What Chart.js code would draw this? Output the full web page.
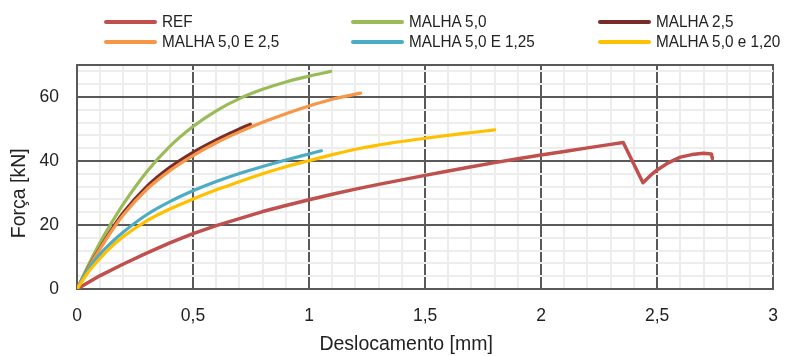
<!DOCTYPE html>
<html>
<head>
<meta charset="utf-8">
<script src="https://cdn.jsdelivr.net/npm/chart.js@4.4.1/dist/chart.umd.min.js"></script>
<style>
  html, body { margin: 0; padding: 0; background: #fff; }
  #wrap { position: relative; width: 795px; height: 356px; }
  #legend { position: absolute; left: 0; top: 0; width: 795px; height: 60px;
    font-family: "Liberation Sans", Arial, sans-serif; font-size: 17px; color: #222; }
  .item { position: absolute; height: 20px; display: flex; align-items: center; white-space: nowrap; }
  .swatch { width: 53px; height: 4px; border-radius: 2px; margin-right: 5px; flex: none; }
  .txt { display: inline-block; transform: scaleX(0.9); transform-origin: left center; }
</style>
</head>
<body>
<div id="wrap">
  <canvas id="myChart" width="795" height="356"></canvas>
  <div id="legend"></div>
</div>
<script>
// series labels and colours
const labels = ['REF', 'MALHA 5,0', 'MALHA 2,5', 'MALHA 5,0 E 2,5', 'MALHA 5,0 E 1,25', 'MALHA 5,0 e 1,20'];
const colors = ['#C0504D', '#9BBB59', '#772C2A', '#F79646', '#4BACC6', '#FFC000'];

// displacement [mm] / force [kN]
const refX = [0, 0.1, 0.2, 0.3, 0.4, 0.5, 0.6, 0.7, 0.8, 0.9, 1.0, 1.1, 1.2, 1.3, 1.4, 1.5, 1.6, 1.7, 1.8, 1.9, 2.0, 2.1, 2.2, 2.3, 2.354, 2.439, 2.47, 2.5, 2.55, 2.6, 2.65, 2.7, 2.734, 2.738];
const refY = [0, 4.2, 7.8, 11.2, 14.4, 17.3, 19.8, 22.0, 24.2, 26.1, 27.9, 29.6, 31.2, 32.7, 34.1, 35.5, 36.9, 38.2, 39.5, 40.7, 41.9, 43.0, 44.1, 45.2, 45.8, 33.2, 35.4, 37.2, 39.5, 41.2, 42.0, 42.4, 42.2, 40.8];

const m50X = [0, 0.05, 0.1, 0.15, 0.2, 0.3, 0.4, 0.5, 0.6, 0.7, 0.8, 0.9, 1.0, 1.093];
const m50Y = [0, 7.6, 14.6, 20.8, 26.6, 36.6, 44.6, 50.8, 55.7, 59.5, 62.4, 64.7, 66.5, 68.0];

const m25X = [0, 0.05, 0.1, 0.15, 0.2, 0.3, 0.4, 0.5, 0.6, 0.7, 0.747];
const m25Y = [0, 6.8, 12.9, 18.7, 23.9, 32.0, 38.0, 42.7, 46.6, 50.0, 51.5];

const m50e25X = [0, 0.05, 0.1, 0.15, 0.2, 0.3, 0.4, 0.5, 0.6, 0.7, 0.8, 0.9, 1.0, 1.1, 1.222];
const m50e25Y = [0, 6.6, 12.6, 18.2, 23.2, 31.1, 37.0, 41.7, 45.7, 49.1, 52.1, 54.8, 57.2, 59.3, 61.2];

const m50e125X = [0, 0.05, 0.1, 0.15, 0.2, 0.3, 0.4, 0.5, 0.6, 0.7, 0.8, 0.9, 1.0, 1.053];
const m50e125Y = [0, 6.3, 10.9, 14.6, 17.8, 23.2, 27.3, 30.7, 33.6, 36.1, 38.3, 40.3, 42.2, 43.2];

const m50e120X = [0, 0.05, 0.1, 0.15, 0.2, 0.3, 0.4, 0.5, 0.6, 0.7, 0.8, 0.9, 1.0, 1.1, 1.222, 1.35, 1.5, 1.65, 1.8];
const m50e120Y = [0, 5.4, 9.6, 13.3, 16.4, 21.3, 25.0, 28.1, 31.0, 33.5, 36.0, 38.2, 40.1, 42.0, 44.0, 45.6, 47.1, 48.5, 49.7];

const seriesX = [refX, m50X, m25X, m50e25X, m50e125X, m50e120X];
const seriesY = [refY, m50Y, m25Y, m50e25Y, m50e125Y, m50e120Y];

const xTitle = 'Deslocamento [mm]';
const yTitle = 'Força [kN]';

const dark = '#595959';
const light = '#ededed';
const textColor = '#222';
const axisFont = 'Liberation Sans, Arial, sans-serif';

const isMajor = (v, step) => Math.abs(v / step - Math.round(v / step)) < 1e-6;
const fmt = (v) => String(Math.round(v * 10) / 10).replace('.', ',');

const datasets = labels.map((label, i) => ({
  label: label,
  data: seriesX[i].map((x, j) => ({ x: x, y: seriesY[i][j] })),
  borderColor: colors[i],
  backgroundColor: colors[i],
  borderWidth: i === 0 ? 3.5 : 3.2,
  pointRadius: 0,
  showLine: true,
  tension: 0,
  cubicInterpolationMode: i === 0 ? 'default' : 'monotone',
  borderCapStyle: 'round',
  borderJoinStyle: 'round',
  order: labels.length - i,
}));

const ctx = document.getElementById('myChart');
const myChart = new Chart(ctx, {
  type: 'scatter',
  data: { datasets: datasets },
  options: {
    responsive: false,
    animation: false,
    layout: { padding: { top: 65, right: 7, left: 0, bottom: 0 } },
    plugins: {
      legend: { display: false },
      tooltip: { enabled: false },
    },
    scales: {
      x: {
        type: 'linear',
        min: 0,
        max: 3,
        z: 0,
        ticks: {
          stepSize: 0.1,
          autoSkip: false,
          maxRotation: 0,
          padding: 17,
          color: textColor,
          font: { family: axisFont, size: 17.5 },
          callback: (v) => (isMajor(v, 0.5) ? fmt(v) : ''),
        },
        grid: {
          drawTicks: false,
          lineWidth: 2,
          color: (c) => (c.tick && isMajor(c.tick.value, 0.5) ? dark : light),
        },
        border: { color: dark, width: 2 },
        title: {
          display: true,
          text: xTitle + '\u00a0'.repeat(7),
          color: textColor,
          font: { family: axisFont, size: 19.5 },
          padding: { top: 0, bottom: 0 },
        },
        afterFit: (s) => { s.height = 67; },
      },
      x2: {
        type: 'linear',
        position: 'top',
        min: 0,
        max: 3,
        ticks: { display: false },
        grid: { display: false, drawTicks: false },
        border: { display: true, color: dark, width: 2 },
        afterFit: (s) => { s.height = 0; },
      },
      y: {
        type: 'linear',
        min: 0,
        max: 70,
        z: -1,
        ticks: {
          stepSize: 4,
          includeBounds: false,
          autoSkip: false,
          padding: 18,
          color: textColor,
          font: { family: axisFont, size: 17.5 },
          callback: (v) => (v % 20 === 0 ? String(v) : ''),
        },
        grid: {
          drawTicks: false,
          lineWidth: 2,
          color: (c) => (c.tick && c.tick.value % 20 === 0 ? dark : light),
        },
        border: { color: dark, width: 2 },
        title: {
          display: true,
          text: yTitle + '\u00a0'.repeat(6),
          color: textColor,
          font: { family: axisFont, size: 19.5 },
          padding: { top: 8, bottom: 0 },
        },
        afterFit: (s) => { s.width = 77; },
      },
    },
  },
});

// legend in three columns, two rows
const legendEl = document.getElementById('legend');
const colLeft = [104, 351, 598];
const rowTop = [11.5, 31.5];
myChart.data.datasets.forEach((ds, i) => {
  const item = document.createElement('div');
  item.className = 'item';
  item.style.left = colLeft[i % 3] + 'px';
  item.style.top = rowTop[Math.floor(i / 3)] + 'px';
  const sw = document.createElement('span');
  sw.className = 'swatch';
  sw.style.background = ds.borderColor;
  const txt = document.createElement('span');
  txt.className = 'txt';
  txt.textContent = ds.label;
  item.appendChild(sw);
  item.appendChild(txt);
  legendEl.appendChild(item);
});
</script>
</body>
</html>
